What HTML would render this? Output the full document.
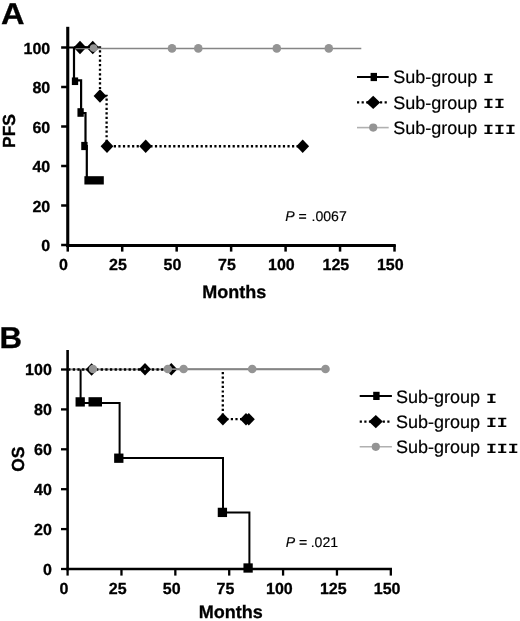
<!DOCTYPE html>
<html><head><meta charset="utf-8"><title>Figure</title>
<style>
html,body{margin:0;padding:0;background:#fff;}
body{width:520px;height:621px;overflow:hidden;}
svg{display:block;will-change:transform;}
text{font-family:"Liberation Sans",sans-serif;fill:#000;text-rendering:geometricPrecision;}
.b{font-weight:bold;stroke:#000;stroke-width:0.3px;}
.tk{font-weight:bold;font-size:16px;stroke:#000;stroke-width:0.3px;}
.lg{font-size:18px;stroke:#000;stroke-width:0.2px;}
.mono{font-family:"Liberation Mono",monospace;font-weight:bold;font-size:18.25px;}
.ax{stroke:#000;fill:none;}
</style></head><body>
<svg width="520" height="621" viewBox="0 0 520 621">
<rect width="520" height="621" fill="#fff"/>

<text transform="translate(1.0,24.2) scale(1.085,1)" class="b" font-size="30">A</text>
<line class="ax" x1="67.75" y1="26.8" x2="67.75" y2="247.05" stroke-width="3.1"/>
<line class="ax" x1="66.2" y1="245.5" x2="395.76" y2="245.5" stroke-width="3.1"/>
<line class="ax" x1="61.15" y1="47.5" x2="67.75" y2="47.5" stroke-width="2.5"/>
<text x="50.2" y="53.7" class="tk" text-anchor="end">100</text>
<line class="ax" x1="61.15" y1="87.0" x2="67.75" y2="87.0" stroke-width="2.5"/>
<text x="50.2" y="93.2" class="tk" text-anchor="end">80</text>
<line class="ax" x1="61.15" y1="126.5" x2="67.75" y2="126.5" stroke-width="2.5"/>
<text x="50.2" y="132.7" class="tk" text-anchor="end">60</text>
<line class="ax" x1="61.15" y1="166.0" x2="67.75" y2="166.0" stroke-width="2.5"/>
<text x="50.2" y="172.2" class="tk" text-anchor="end">40</text>
<line class="ax" x1="61.15" y1="205.5" x2="67.75" y2="205.5" stroke-width="2.5"/>
<text x="50.2" y="211.7" class="tk" text-anchor="end">20</text>
<line class="ax" x1="61.15" y1="245.0" x2="67.75" y2="245.0" stroke-width="2.5"/>
<text x="50.2" y="251.2" class="tk" text-anchor="end">0</text>
<line class="ax" x1="67.75" y1="245.0" x2="67.75" y2="251.6" stroke-width="2.5"/>
<text x="63.55" y="270.3" class="tk" text-anchor="middle">0</text>
<line class="ax" x1="122.21000000000001" y1="245.0" x2="122.21000000000001" y2="251.6" stroke-width="2.5"/>
<text x="118.01" y="270.3" class="tk" text-anchor="middle">25</text>
<line class="ax" x1="176.67000000000002" y1="245.0" x2="176.67000000000002" y2="251.6" stroke-width="2.5"/>
<text x="172.47000000000003" y="270.3" class="tk" text-anchor="middle">50</text>
<line class="ax" x1="231.13" y1="245.0" x2="231.13" y2="251.6" stroke-width="2.5"/>
<text x="226.93" y="270.3" class="tk" text-anchor="middle">75</text>
<line class="ax" x1="285.59000000000003" y1="245.0" x2="285.59000000000003" y2="251.6" stroke-width="2.5"/>
<text x="281.39000000000004" y="270.3" class="tk" text-anchor="middle">100</text>
<line class="ax" x1="340.05" y1="245.0" x2="340.05" y2="251.6" stroke-width="2.5"/>
<text x="335.85" y="270.3" class="tk" text-anchor="middle">125</text>
<line class="ax" x1="394.51" y1="245.0" x2="394.51" y2="251.6" stroke-width="2.5"/>
<text x="390.31" y="270.3" class="tk" text-anchor="middle">150</text>
<text transform="translate(14.9,131.0) rotate(-90)" class="b" font-size="17.5" text-anchor="middle">PFS</text>
<text x="202.2" y="298" class="b" font-size="18">Months</text>
<text x="285.2" y="220.8" font-size="14.1" stroke="#000" stroke-width="0.15"><tspan font-style="italic">P</tspan> = <tspan dx="0.8">.0067</tspan></text>
<line x1="357" y1="77" x2="388.7" y2="77" stroke="#000" stroke-width="2"/>
<rect x="370.6" y="72.9" width="6.4" height="8.2" fill="#000"/>
<line x1="357" y1="102.4" x2="388.7" y2="102.4" stroke="#000" stroke-width="2.2" stroke-dasharray="2.2 2.4"/>
<path d="M366.2,102.4 L373.2,95.80000000000001 L380.2,102.4 L373.2,109.0 Z" fill="#000"/>
<line x1="357" y1="127.6" x2="388.7" y2="127.6" stroke="#b0b0b0" stroke-width="1.6"/>
<circle cx="373.2" cy="127.6" r="4.1" fill="#949494"/>
<text x="393.2" y="83.3" class="lg">Sub-group</text>
<text transform="translate(483.1,83.0) scale(1,0.78)" class="mono">I</text>
<text x="393.2" y="108.7" class="lg">Sub-group</text>
<text transform="translate(483.1,108.4) scale(1,0.78)" class="mono">II</text>
<text x="393.2" y="133.8" class="lg">Sub-group</text>
<text transform="translate(483.1,133.5) scale(1,0.78)" class="mono">III</text>
<path d="M80,47.5 H100 V96 H106.6 V146.25 H302.7" fill="none" stroke="#000" stroke-width="2.3" stroke-dasharray="2.2 2.37"/>
<path d="M67.75,47.5 H74 V80.3 H81.1 V113 H85.5 V146 H86.8 V180" fill="none" stroke="#000" stroke-width="2.2"/>
<line x1="74" y1="47.5" x2="93" y2="47.5" stroke="#000" stroke-width="2.4"/>
<path d="M73.6,47.5 L80,40.8 L86.4,47.5 L80,54.2 Z" fill="#000"/>
<path d="M86.35,47.5 L92.75,40.8 L99.15,47.5 L92.75,54.2 Z" fill="#000"/>
<path d="M93.6,96 L100,89.3 L106.4,96 L100,102.7 Z" fill="#000"/>
<path d="M100.6,146.25 L107,139.55 L113.4,146.25 L107,152.95 Z" fill="#000"/>
<path d="M139.29999999999998,146.25 L145.7,139.55 L152.1,146.25 L145.7,152.95 Z" fill="#000"/>
<path d="M296.3,146.25 L302.7,139.55 L309.09999999999997,146.25 L302.7,152.95 Z" fill="#000"/>
<rect x="71.85" y="77.45" width="6.3" height="7.6" fill="#000"/>
<rect x="77.44999999999999" y="108.2" width="6.3" height="8.6" fill="#000"/>
<rect x="81.25" y="141.9" width="6.3" height="8.2" fill="#000"/>
<rect x="84.4" y="176.2" width="19.4" height="8.3" fill="#000"/>
<line x1="75.5" y1="48.7" x2="98" y2="48.7" stroke="#858585" stroke-width="1.1"/>
<line x1="97" y1="48.5" x2="361.3" y2="48.5" stroke="#858585" stroke-width="1.7"/>
<circle cx="93.6" cy="48.1" r="3.8" fill="#949494"/>
<circle cx="172" cy="48.4" r="4.3" fill="#949494"/>
<circle cx="198.3" cy="48.4" r="4.3" fill="#949494"/>
<circle cx="276.8" cy="48.4" r="4.3" fill="#949494"/>
<circle cx="328.8" cy="48.4" r="4.3" fill="#949494"/>
<text transform="translate(-0.4,348.1) scale(1.04,1)" class="b" font-size="30">B</text>
<line class="ax" x1="67.6" y1="350" x2="67.6" y2="570.3" stroke-width="2.6"/>
<line class="ax" x1="66.3" y1="569.0" x2="391.9699999999999" y2="569.0" stroke-width="2.6"/>
<line class="ax" x1="60.99999999999999" y1="369.5" x2="67.6" y2="369.5" stroke-width="2.3"/>
<text x="51.8" y="375.3" class="tk" text-anchor="end">100</text>
<line class="ax" x1="60.99999999999999" y1="409.4" x2="67.6" y2="409.4" stroke-width="2.3"/>
<text x="51.8" y="415.2" class="tk" text-anchor="end">80</text>
<line class="ax" x1="60.99999999999999" y1="449.3" x2="67.6" y2="449.3" stroke-width="2.3"/>
<text x="51.8" y="455.1" class="tk" text-anchor="end">60</text>
<line class="ax" x1="60.99999999999999" y1="489.2" x2="67.6" y2="489.2" stroke-width="2.3"/>
<text x="51.8" y="495.0" class="tk" text-anchor="end">40</text>
<line class="ax" x1="60.99999999999999" y1="529.1" x2="67.6" y2="529.1" stroke-width="2.3"/>
<text x="51.8" y="534.9" class="tk" text-anchor="end">20</text>
<line class="ax" x1="60.99999999999999" y1="569.0" x2="67.6" y2="569.0" stroke-width="2.3"/>
<text x="51.8" y="574.8" class="tk" text-anchor="end">0</text>
<line class="ax" x1="67.6" y1="569.0" x2="67.6" y2="575.6" stroke-width="2.3"/>
<text x="63.89999999999999" y="593.7" class="tk" text-anchor="middle">0</text>
<line class="ax" x1="121.47" y1="569.0" x2="121.47" y2="575.6" stroke-width="2.3"/>
<text x="117.77" y="593.7" class="tk" text-anchor="middle">25</text>
<line class="ax" x1="175.33999999999997" y1="569.0" x2="175.33999999999997" y2="575.6" stroke-width="2.3"/>
<text x="171.64" y="593.7" class="tk" text-anchor="middle">50</text>
<line class="ax" x1="229.20999999999998" y1="569.0" x2="229.20999999999998" y2="575.6" stroke-width="2.3"/>
<text x="225.51" y="593.7" class="tk" text-anchor="middle">75</text>
<line class="ax" x1="283.08" y1="569.0" x2="283.08" y2="575.6" stroke-width="2.3"/>
<text x="279.38" y="593.7" class="tk" text-anchor="middle">100</text>
<line class="ax" x1="336.94999999999993" y1="569.0" x2="336.94999999999993" y2="575.6" stroke-width="2.3"/>
<text x="333.24999999999994" y="593.7" class="tk" text-anchor="middle">125</text>
<line class="ax" x1="390.81999999999994" y1="569.0" x2="390.81999999999994" y2="575.6" stroke-width="2.3"/>
<text x="387.11999999999995" y="593.7" class="tk" text-anchor="middle">150</text>
<text transform="translate(24.0,459.2) rotate(-90)" class="b" font-size="17.5" text-anchor="middle">OS</text>
<text x="198.7" y="618" class="b" font-size="18">Months</text>
<text x="285.8" y="546.9" font-size="14.1" stroke="#000" stroke-width="0.15"><tspan font-style="italic">P</tspan> = <tspan dx="-0.6">.021</tspan></text>
<line x1="359.7" y1="395.9" x2="391.9" y2="395.9" stroke="#000" stroke-width="2"/>
<rect x="373.20000000000005" y="391.79999999999995" width="6.4" height="8.2" fill="#000"/>
<line x1="359.7" y1="421.6" x2="391.9" y2="421.6" stroke="#000" stroke-width="2.2" stroke-dasharray="2.2 2.4"/>
<path d="M368.8,421.6 L375.8,415.0 L382.8,421.6 L375.8,428.20000000000005 Z" fill="#000"/>
<line x1="359.7" y1="446.8" x2="391.9" y2="446.8" stroke="#b0b0b0" stroke-width="1.6"/>
<circle cx="375.8" cy="446.8" r="4.1" fill="#949494"/>
<text x="396.0" y="402.8" class="lg">Sub-group</text>
<text transform="translate(485.9,402.5) scale(1,0.78)" class="mono">I</text>
<text x="396.0" y="427.5" class="lg">Sub-group</text>
<text transform="translate(485.9,427.2) scale(1,0.78)" class="mono">II</text>
<text x="396.0" y="452.8" class="lg">Sub-group</text>
<text transform="translate(485.9,452.5) scale(1,0.78)" class="mono">III</text>
<line x1="68.1" y1="369.3" x2="325.5" y2="369.3" stroke="#858585" stroke-width="1.8"/>
<path d="M68.1,369.5 H171" fill="none" stroke="#000" stroke-width="2.4" stroke-dasharray="2.3 2.35"/>
<path d="M222.8,372 V419.2 H247" fill="none" stroke="#000" stroke-width="2.3" stroke-dasharray="2.2 2.4"/>
<path d="M80.6,369.5 V402.9 H119.6 V458 H223 V512.6 H249.4 V568.3" fill="none" stroke="#000" stroke-width="2"/>
<path d="M85.6,369.5 L91.6,363.3 L97.6,369.5 L91.6,375.7 Z" fill="#000"/>
<path d="M139.0,369.3 L145,363.1 L151.0,369.3 L145,375.5 Z" fill="#000"/>
<path d="M165.3,369.3 L171.3,363.1 L177.3,369.3 L171.3,375.5 Z" fill="#000"/>
<path d="M216.9,419.2 L222.9,413.0 L228.9,419.2 L222.9,425.4 Z" fill="#000"/>
<path d="M240.0,419.2 L246,413.0 L252.0,419.2 L246,425.4 Z" fill="#000"/>
<path d="M242.8,419.2 L248.8,413.0 L254.8,419.2 L248.8,425.4 Z" fill="#000"/>
<rect x="75.55" y="397.25" width="9.3" height="9.3" fill="#000"/>
<rect x="114.14999999999999" y="453.55" width="9.3" height="9.3" fill="#000"/>
<rect x="217.75" y="507.75" width="9.3" height="9.3" fill="#000"/>
<rect x="243.45" y="563.35" width="9.3" height="9.3" fill="#000"/>
<rect x="88.5" y="397.2" width="13.5" height="9.3" fill="#000"/>
<line x1="166" y1="369.2" x2="325.5" y2="369.2" stroke="#858585" stroke-width="1.8"/>
<circle cx="145" cy="369.3" r="1.0" fill="#b5b5b5"/>
<circle cx="93" cy="369.0" r="4.3" fill="#949494"/>
<circle cx="167.8" cy="369.0" r="4.3" fill="#949494"/>
<circle cx="183.6" cy="369.0" r="4.3" fill="#949494"/>
<circle cx="252.2" cy="369.0" r="4.3" fill="#949494"/>
<circle cx="325.5" cy="369.0" r="4.3" fill="#949494"/>
</svg>
</body></html>
